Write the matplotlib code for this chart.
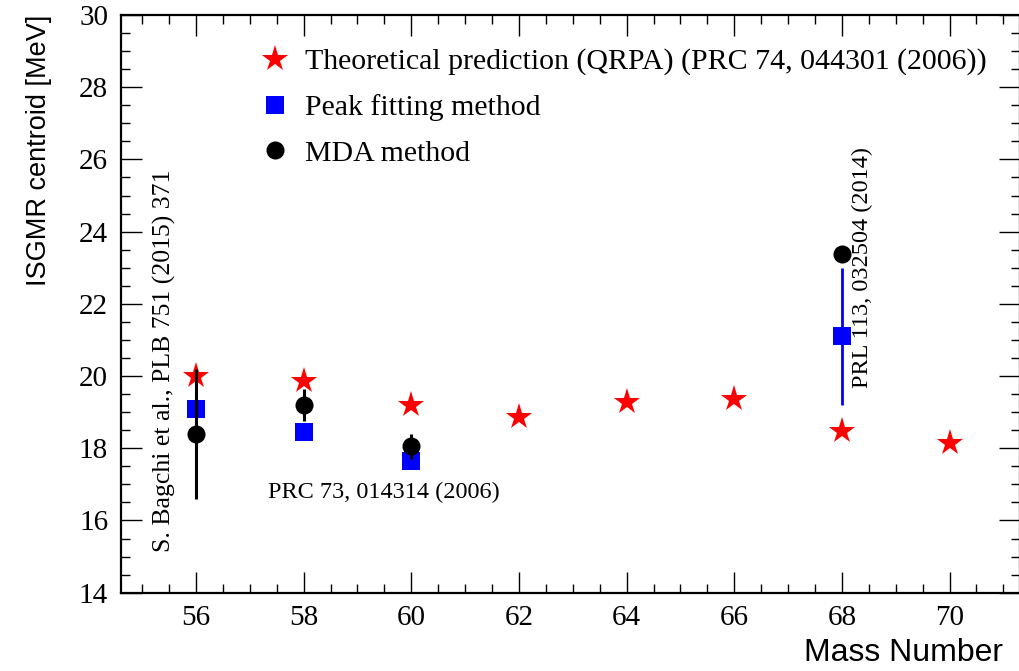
import matplotlib
matplotlib.use("Agg")
import matplotlib.pyplot as plt
from matplotlib.lines import Line2D
from matplotlib.ticker import MultipleLocator

# Theoretical ISGMR centroids (QRPA)
theory_A = [56, 58, 60, 62, 64, 66, 68, 70]
theory_E = [20.0, 19.85, 19.2, 18.88, 19.28, 19.36, 18.48, 18.16]

# Peak fitting method
peak_A = [56, 58, 60, 68]
peak_E = [19.1, 18.44, 17.64, 21.1]
peak_err = [0.5, 0.0, 0.0, 1.9]

# MDA method
mda_A = [56, 58, 60, 68]
mda_E = [18.4, 19.2, 18.05, 23.38]
mda_err = [1.8, 0.45, 0.35, 0.0]

legend_labels = ["Theoretical prediction (QRPA) (PRC 74, 044301 (2006))",
                 "Peak fitting method",
                 "MDA method"]

serif = ["Liberation Serif", "DejaVu Serif"]
sans = ["Liberation Sans", "DejaVu Sans"]

fig = plt.figure(figsize=(10.19, 6.71), dpi=100)
ax = fig.add_axes([0.1184, 0.1167, 0.8821, 0.8609])

ax.set_xlim(54.6, 71.3)
ax.set_ylim(14, 30)

star_ms, sq_ms, dot_ms = 20, 12.5, 13

ax.plot(theory_A, theory_E, linestyle="none", marker="*", color="red",
        markersize=star_ms, markeredgewidth=0, zorder=3)

ax.errorbar(peak_A, peak_E, yerr=peak_err, fmt="s", color="blue",
            markersize=sq_ms, markeredgewidth=0, elinewidth=2.0,
            capsize=2.5, capthick=2.0, zorder=4)

ax.errorbar(mda_A, mda_E, yerr=mda_err, fmt="o", color="black",
            markersize=dot_ms, markeredgewidth=0, elinewidth=2.2,
            capsize=2.5, capthick=2.0, zorder=5)

# Reference annotations
ax.text(55.42, 15.13, "S. Bagchi et al., PLB 751 (2015) 371", rotation=90,
        ha="center", va="bottom", fontsize=18.5, family=serif)
ax.text(57.34, 16.77, "PRC 73, 014314 (2006)", ha="left", va="center",
        fontsize=17.5, family=serif)
ax.text(68.38, 19.67, "PRL 113, 032504 (2014)", rotation=90,
        ha="center", va="bottom", fontsize=17.5, family=serif)

# Legend
handles = [
    Line2D([], [], linestyle="none", marker="*", color="red",
           markersize=star_ms, markeredgewidth=0),
    Line2D([], [], linestyle="none", marker="s", color="blue",
           markersize=sq_ms, markeredgewidth=0),
    Line2D([], [], linestyle="none", marker="o", color="black",
           markersize=dot_ms, markeredgewidth=0),
]
leg = ax.legend(handles, legend_labels, loc="upper left",
                bbox_to_anchor=(0.155, 0.9428), frameon=False,
                prop={"family": serif, "size": 21.5}, handletextpad=0.5,
                labelspacing=0.63, handlelength=1.0, borderaxespad=0,
                borderpad=0)

# Axis titles
ax.set_xlabel("Mass Number", fontsize=23, family=sans, ha="right")
ax.set_ylabel("ISGMR centroid [MeV]", fontsize=19.5, family=sans, ha="right")
ax.xaxis.set_label_coords(0.9817, -0.079)
ax.yaxis.set_label_coords(-0.0764, 1.0)

# Ticks
ax.xaxis.set_major_locator(MultipleLocator(2))
ax.xaxis.set_minor_locator(MultipleLocator(0.5))
ax.yaxis.set_major_locator(MultipleLocator(2))
ax.yaxis.set_minor_locator(MultipleLocator(0.5))
ax.tick_params(which="both", direction="in", top=True, right=True,
               width=1.0)
ax.tick_params(which="major", length=15, labelsize=21, pad=9)
ax.tick_params(which="minor", length=6.5)
for lbl in ax.get_xticklabels() + ax.get_yticklabels():
    lbl.set_family(serif)
for sp in ax.spines.values():
    sp.set_linewidth(1.6)

fig.savefig("out.png", dpi=100)
